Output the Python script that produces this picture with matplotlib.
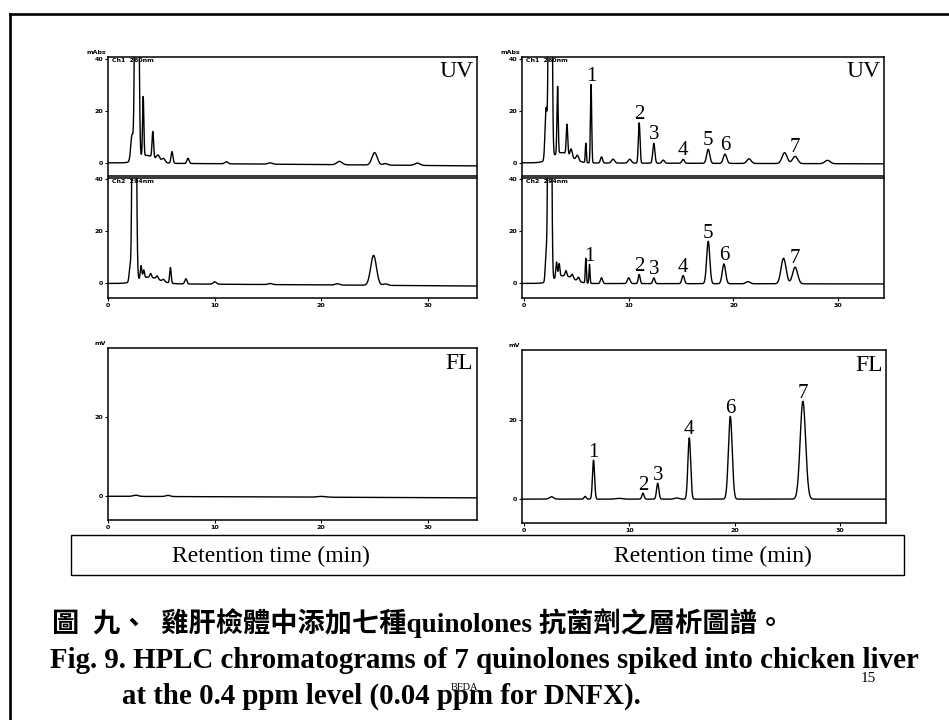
import numpy as np
import matplotlib
matplotlib.use("Agg")
import matplotlib.pyplot as plt
from matplotlib.lines import Line2D
from matplotlib.patches import Rectangle

W, H = 949, 720
SERIF = "Liberation Serif"
CAPTION_FONTS = ["Liberation Serif", "Noto Sans CJK TC"]

# ---- peak tables: retention time (min), height, width (sigma, min) ----
# blank chicken liver, UV channel 1
blank_uv1_rt = [2.25, 2.7, 3.3, 3.6, 4.2, 4.7, 5.2, 6.0, 7.5, 11.1, 15.2, 21.7, 25.0, 26.0, 29.0]
blank_uv1_h = [10.0, 300.0, 23.0, 3.0, 10.0, 2.0, 1.5, 4.5, 2.0, 0.8, 0.5, 1.3, 4.8, 0.6, 0.9]
blank_uv1_w = [0.12, 0.12, 0.06, 0.8, 0.07, 0.15, 0.15, 0.09, 0.1, 0.15, 0.2, 0.25, 0.25, 0.2, 0.25]
blank_uv1_drift = -1.2

# blank chicken liver, UV channel 2
blank_uv2_rt = [2.05, 2.46, 3.1, 3.35, 3.8, 4.0, 4.6, 5.2, 5.85, 7.3, 10.0, 15.2, 21.5, 24.9, 26.0]
blank_uv2_h = [5.0, 300.0, 5.0, 3.0, 2.5, 1.5, 1.2, 0.8, 6.0, 2.0, 0.9, 0.4, 0.5, 11.5, 0.6]
blank_uv2_w = [0.08, 0.12, 0.07, 0.07, 1.0, 0.08, 0.1, 0.1, 0.07, 0.1, 0.15, 0.2, 0.2, 0.27, 0.2]
blank_uv2_drift = -1.0

# blank chicken liver, fluorescence
blank_fl_rt = [2.6, 5.6, 20.0]
blank_fl_h = [0.3, 0.3, 0.2]
blank_fl_w = [0.25, 0.2, 0.4]
blank_fl_drift = -0.4

# spiked liver: matrix peaks, UV channel 1
spiked_uv1_rt = [2.1, 2.5, 3.2, 3.6, 4.1, 4.5, 5.1, 5.9, 7.4, 8.5, 10.1, 13.3, 21.5, 24.9, 29.0]
spiked_uv1_h = [20.0, 300.0, 26.0, 4.0, 11.5, 3.0, 2.0, 7.5, 2.4, 1.5, 1.5, 1.2, 1.8, 4.2, 1.3]
spiked_uv1_w = [0.1, 0.11, 0.06, 0.9, 0.07, 0.1, 0.12, 0.05, 0.1, 0.15, 0.15, 0.12, 0.2, 0.24, 0.25]
spiked_uv1_drift = -0.4

# spiked liver: matrix peaks, UV channel 2
spiked_uv2_rt = [2.1, 2.45, 3.1, 3.35, 3.8, 4.0, 4.6, 5.2, 5.9, 7.4, 10.0, 21.4, 24.8]
spiked_uv2_h = [10.0, 300.0, 6.0, 5.0, 3.0, 2.0, 1.5, 1.5, 9.5, 2.2, 2.2, 0.8, 9.8]
spiked_uv2_w = [0.08, 0.11, 0.07, 0.07, 0.9, 0.08, 0.1, 0.1, 0.05, 0.1, 0.13, 0.2, 0.24]
spiked_uv2_drift = -0.2

# spiked liver: matrix peaks, fluorescence
spiked_fl_rt = [2.6, 5.8, 9.0, 14.5]
spiked_fl_h = [0.6, 0.7, 0.2, 0.3]
spiked_fl_w = [0.2, 0.1, 0.3, 0.2]
spiked_fl_drift = 0.0

# the seven quinolones (numbered 1-7)
compound_ids = ["1", "2", "3", "4", "5", "6", "7"]
quin_uv1_rt = [6.4, 11.0, 12.4, 15.2, 17.6, 19.2, 25.9]
quin_uv1_h = [30.3, 15.6, 7.7, 1.5, 5.4, 3.6, 2.8]
quin_uv1_w = [0.06, 0.08, 0.1, 0.12, 0.15, 0.16, 0.24]
quin_uv2_rt = [6.25, 11.0, 12.4, 15.2, 17.6, 19.1, 25.9]
quin_uv2_h = [7.3, 3.5, 2.2, 3.1, 16.3, 7.6, 6.4]
quin_uv2_w = [0.05, 0.09, 0.1, 0.12, 0.15, 0.16, 0.24]
quin_fl_ids = ["1", "2", "3", "4", "6", "7"]
quin_fl_rt = [6.6, 11.3, 12.7, 15.7, 19.6, 26.5]
quin_fl_h = [9.8, 1.5, 4.0, 15.4, 20.8, 24.6]
quin_fl_w = [0.1, 0.1, 0.11, 0.13, 0.18, 0.26]

uv_ticks = [0, 20, 40]
fl_ticks = [0, 20]
time_ticks = [0, 10, 20, 30]


def chromatogram(t, rts, hs, ws, drift):
    y = np.zeros_like(t)
    for r, h, w in zip(rts, hs, ws):
        y += h * np.exp(-0.5 * ((t - r) / w) ** 2)
    return y + drift * t / t[-1]


def px_axes(fig, x0, y0, x1, y1):
    return fig.add_axes([x0 / W, 1 - y1 / H, (x1 - x0) / W, (y1 - y0) / H])


def style(ax, xlim, ylim, yticks, show_x):
    ax.set_xlim(*xlim)
    ax.set_ylim(*ylim)
    for s in ax.spines.values():
        s.set_linewidth(1.1)
        s.set_color("black")
    ax.set_yticks(yticks)
    ax.set_yticklabels([str(v) for v in yticks])
    ax.tick_params(axis="y", length=2.5, width=0.8, direction="out", pad=1,
                   labelsize=4.5)
    if show_x:
        ax.set_xticks(time_ticks)
        ax.set_xticklabels([str(v) for v in time_ticks])
        ax.tick_params(axis="x", length=2, width=0.8, direction="out", pad=1.5,
                       labelsize=4.5)
    else:
        ax.set_xticks([])
    for lab in ax.get_xticklabels() + ax.get_yticklabels():
        lab.set_fontweight("bold")
        lab.set_family("DejaVu Sans")


def corner_tag(ax, text):
    ax.text(0.99, 0.97, text, transform=ax.transAxes, ha="right", va="top",
            fontsize=17, family=SERIF)


def number_peaks(ax, ids, rts, hs):
    for lab, r, h in zip(ids, rts, hs):
        ax.annotate(lab, (r, h), xytext=(0, 2.5), textcoords="offset points",
                    ha="center", va="baseline", fontsize=15, family=SERIF)


def small_label(ax, x, y, text, ha, va):
    ax.text(x, y, text, transform=ax.transAxes, ha=ha, va=va,
            fontsize=4.5, fontweight="bold")


fig = plt.figure(figsize=(W / 100, H / 100), dpi=100)
fig.patch.set_facecolor("white")

t_left = np.linspace(0, 34.6, 4000)
t_right = np.linspace(-0.2, 34.4, 4000)
xl = (0, 34.6)
xr = (-0.2, 34.4)
ylim_uv1 = (-5.1, 40.9)
ylim_uv2 = (-5.6, 40.5)
ylim_fl = (-6.0, 37.5)
lw = 1.0

# ---- blank sample: UV (two channels) ----
ax = px_axes(fig, 108, 57, 477, 176)
ax.plot(t_left, chromatogram(t_left, blank_uv1_rt, blank_uv1_h, blank_uv1_w, blank_uv1_drift),
        color="black", lw=lw)
style(ax, xl, ylim_uv1, uv_ticks, False)
corner_tag(ax, "UV")
small_label(ax, 0.012, 0.995, "Ch1  260nm", "left", "top")
small_label(ax, -0.005, 1.02, "mAbs", "right", "bottom")

ax = px_axes(fig, 108, 178, 477, 298)
ax.plot(t_left, chromatogram(t_left, blank_uv2_rt, blank_uv2_h, blank_uv2_w, blank_uv2_drift),
        color="black", lw=lw)
style(ax, xl, ylim_uv2, uv_ticks, True)
small_label(ax, 0.012, 0.995, "Ch2  294nm", "left", "top")

# ---- spiked sample: UV (two channels) ----
ax = px_axes(fig, 522, 57, 884, 176)
base = chromatogram(t_right, spiked_uv1_rt, spiked_uv1_h, spiked_uv1_w, spiked_uv1_drift)
ax.plot(t_right, base + chromatogram(t_right, quin_uv1_rt, quin_uv1_h, quin_uv1_w, 0.0),
        color="black", lw=lw)
style(ax, xr, ylim_uv1, uv_ticks, False)
corner_tag(ax, "UV")
number_peaks(ax, compound_ids, quin_uv1_rt, quin_uv1_h)
small_label(ax, 0.012, 0.995, "Ch1  260nm", "left", "top")
small_label(ax, -0.005, 1.02, "mAbs", "right", "bottom")

ax = px_axes(fig, 522, 178, 884, 298)
base = chromatogram(t_right, spiked_uv2_rt, spiked_uv2_h, spiked_uv2_w, spiked_uv2_drift)
ax.plot(t_right, base + chromatogram(t_right, quin_uv2_rt, quin_uv2_h, quin_uv2_w, 0.0),
        color="black", lw=lw)
style(ax, xr, ylim_uv2, uv_ticks, True)
number_peaks(ax, compound_ids, quin_uv2_rt, quin_uv2_h)
small_label(ax, 0.012, 0.995, "Ch2  294nm", "left", "top")

# ---- fluorescence ----
ax = px_axes(fig, 108, 348, 477, 520)
ax.plot(t_left, chromatogram(t_left, blank_fl_rt, blank_fl_h, blank_fl_w, blank_fl_drift),
        color="black", lw=lw)
style(ax, xl, ylim_fl, fl_ticks, True)
corner_tag(ax, "FL")
small_label(ax, -0.005, 1.01, "mV", "right", "bottom")

ax = px_axes(fig, 522, 350, 886, 523)
base = chromatogram(t_right, spiked_fl_rt, spiked_fl_h, spiked_fl_w, spiked_fl_drift)
ax.plot(t_right, base + chromatogram(t_right, quin_fl_rt, quin_fl_h, quin_fl_w, 0.0),
        color="black", lw=lw)
style(ax, xr, ylim_fl, fl_ticks, True)
corner_tag(ax, "FL")
number_peaks(ax, quin_fl_ids, quin_fl_rt, quin_fl_h)
small_label(ax, -0.005, 1.01, "mV", "right", "bottom")

# ---- shared x-axis title box ----
fig.add_artist(Rectangle((71 / W, 1 - 575 / H), (904 - 71) / W, 40 / H,
                         transform=fig.transFigure, fill=False, lw=1.0, ec="black"))
for xc in (271, 713):
    fig.text(xc / W, 1 - 556 / H, "Retention time (min)", ha="center", va="center",
             fontsize=17, family=SERIF)

# ---- page frame ----
fig.add_artist(Line2D([9.5 / W, 9.5 / W], [1 - 14 / H, 0], transform=fig.transFigure,
                      color="black", lw=1.9))
fig.add_artist(Line2D([9.5 / W, 1.0], [1 - 14 / H, 1 - 14 / H], transform=fig.transFigure,
                      color="black", lw=1.9))

# ---- caption ----
cap_size = 20.8
fig.text(52 / W, 1 - 623 / H, "圖  九、  雞肝檢體中添加七種quinolones 抗菌劑之層析圖譜。",
         ha="left", va="center", fontsize=19.6, fontweight="bold", family=CAPTION_FONTS)
fig.text(50 / W, 1 - 668 / H,
         "Fig. 9. HPLC chromatograms of 7 quinolones spiked into chicken liver",
         ha="left", va="baseline", fontsize=cap_size, fontweight="bold", family=SERIF)
line3_x = 122
line3_y = 704
prefix = "at the 0.4 ppm level (0.04 "
fig.text(line3_x / W, 1 - line3_y / H, prefix + "ppm for DNFX).",
         ha="left", va="baseline", fontsize=cap_size, fontweight="bold", family=SERIF)

# centre the small "BFDA" mark over the second "ppm"
renderer = fig.canvas.get_renderer()
probe = fig.text(0, 0, prefix, fontsize=cap_size, fontweight="bold", family=SERIF)
probe_w = probe.get_window_extent(renderer).width
probe2 = fig.text(0, 0, "ppm", fontsize=cap_size, fontweight="bold", family=SERIF)
ppm_w = probe2.get_window_extent(renderer).width
probe.remove()
probe2.remove()
fig.text((line3_x + probe_w + ppm_w / 2) / W, 1 - 690 / H, "BFDA", ha="center",
         va="baseline", fontsize=7.5, family=SERIF)
fig.text(868 / W, 1 - 679 / H, "15", ha="center", va="center", fontsize=11,
         family=SERIF)

fig.savefig("out.png", dpi=100, facecolor="white")
